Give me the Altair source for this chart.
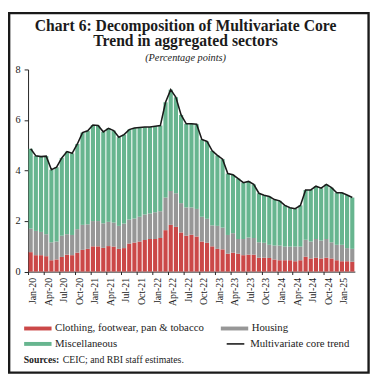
import altair as alt
import pandas as pd

mnames = ["Jan", "Feb", "Mar", "Apr", "May", "Jun", "Jul", "Aug", "Sep", "Oct", "Nov", "Dec"]
months = [f"{m}-{y}" for y in range(20, 26) for m in mnames][:63]

clothing = [0.77, 0.65, 0.65, 0.61, 0.45, 0.48, 0.58, 0.67, 0.65, 0.75, 0.86, 0.90,
            1.00, 1.00, 0.94, 1.01, 0.99, 0.90, 0.93, 1.11, 1.15, 1.19, 1.25, 1.29,
            1.29, 1.33, 1.64, 1.85, 1.77, 1.55, 1.42, 1.46, 1.39, 1.19, 1.14, 1.00,
            0.90, 0.88, 0.71, 0.75, 0.71, 0.65, 0.67, 0.67, 0.55, 0.55, 0.54, 0.48,
            0.45, 0.45, 0.45, 0.41, 0.45, 0.59, 0.52, 0.55, 0.52, 0.55, 0.52, 0.45,
            0.41, 0.41, 0.39]
housing = [0.93, 0.96, 0.92, 0.87, 0.71, 0.71, 0.84, 0.81, 0.80, 0.93, 0.99, 0.97,
           1.00, 1.00, 0.97, 0.96, 0.95, 0.91, 0.97, 0.95, 0.95, 0.98, 1.01, 1.01,
           1.06, 1.06, 1.29, 1.34, 1.33, 1.16, 1.12, 1.08, 1.09, 0.98, 0.95, 0.83,
           0.91, 0.86, 0.74, 0.77, 0.58, 0.64, 0.68, 0.66, 0.61, 0.59, 0.52, 0.55,
           0.58, 0.54, 0.54, 0.58, 0.54, 0.67, 0.67, 0.74, 0.71, 0.74, 0.64, 0.61,
           0.65, 0.52, 0.51]
misc = [3.16, 2.97, 2.98, 3.09, 2.87, 2.94, 3.08, 3.27, 3.23, 3.37, 3.65, 3.70,
        3.80, 3.78, 3.62, 3.70, 3.64, 3.51, 3.52, 3.56, 3.58, 3.53, 3.46, 3.42,
        3.40, 3.39, 3.77, 4.01, 3.80, 3.49, 3.31, 3.31, 3.35, 3.06, 3.06, 2.95,
        2.79, 2.71, 2.43, 2.31, 2.39, 2.23, 2.22, 2.12, 1.94, 1.88, 1.91, 1.82,
        1.77, 1.63, 1.54, 1.50, 1.63, 1.97, 2.04, 2.09, 2.07, 2.16, 2.16, 2.06,
        2.06, 2.10, 2.03]
core_trend = [4.86, 4.58, 4.55, 4.57, 4.03, 4.13, 4.50, 4.75, 4.68, 5.05, 5.50, 5.57,
              5.80, 5.78, 5.53, 5.67, 5.58, 5.32, 5.42, 5.62, 5.68, 5.70, 5.72, 5.72,
              5.75, 5.78, 6.70, 7.20, 6.90, 6.20, 5.85, 5.85, 5.83, 5.23, 5.15, 4.78,
              4.60, 4.45, 3.88, 3.83, 3.68, 3.52, 3.57, 3.45, 3.10, 3.02, 2.97, 2.85,
              2.80, 2.62, 2.53, 2.49, 2.62, 3.23, 3.23, 3.38, 3.30, 3.45, 3.32, 3.12,
              3.12, 3.03, 2.93]

# stacking order (bottom to top)
series_names = ["Clothing,  footwear, pan & tobacco", "Housing", "Miscellaneous"]
# legend order (column-major in a 2-column legend)
legend_order = ["Clothing,  footwear, pan & tobacco", "Miscellaneous", "Housing"]
legend_colors = ["#CB4848", "#67B58F", "#979797"]
line_name = "Multivariate core trend"

rows = []
for k, (name, vals) in enumerate(zip(series_names, [clothing, housing, misc])):
    for m, v in zip(months, vals):
        rows.append({"month": m, "series": name, "value": v, "order": k})
bars_df = pd.DataFrame(rows)
line_df = pd.DataFrame({"month": months, "value": core_trend, "s": line_name})

FONT = "Liberation Serif"
W, H = 334, 206.6

x_enc = alt.X(
    "month:N", sort=months, title=None,
    scale=alt.Scale(paddingInner=0.2, paddingOuter=0.1),
    axis=alt.Axis(values=months[::3], labelAngle=270, labelAlign="right",
                  labelBaseline="middle", labelFont=FONT, labelFontSize=10,
                  labelColor="#222", labelPadding=3, tickSize=3, tickColor="#222",
                  domainColor="#222", bandPosition=0, labelOffset=2.5),
)
y_scale = alt.Scale(domain=[0, 8], nice=False)

bars = alt.Chart(bars_df).mark_bar().encode(
    x=x_enc,
    y=alt.Y("value:Q", stack="zero", scale=y_scale, title=None,
            axis=alt.Axis(values=[0, 2, 4, 6, 8], grid=False, labelFont=FONT,
                          labelFontSize=10.5, labelColor="#222", tickSize=4,
                          tickColor="#222", domainColor="#222", labelPadding=4)),
    color=alt.Color("series:N",
                    scale=alt.Scale(domain=legend_order, range=legend_colors),
                    legend=alt.Legend(orient="none", legendX=4.5, legendY=259,
                                      columns=2, title=None,
                                      symbolType="M-2.8,-0.4H2.8V0.4H-2.8Z",
                                      symbolSize=100, symbolStrokeWidth=0,
                                      labelFont=FONT, labelFontSize=11,
                                      labelColor="#222", labelOffset=12,
                                      columnPadding=13, rowPadding=4,
                                      padding=0, labelLimit=300)),
    order=alt.Order("order:Q"),
)

line = alt.Chart(line_df).mark_line(strokeWidth=1.6).encode(
    x=alt.X("month:N", sort=months),
    y=alt.Y("value:Q", scale=y_scale),
    stroke=alt.Stroke("s:N", scale=alt.Scale(domain=[line_name], range=["#1a1a1a"]),
                      legend=alt.Legend(orient="none", legendX=202, legendY=270.5,
                                        title=None, symbolType="stroke",
                                        symbolSize=324, symbolStrokeWidth=1.6,
                                        labelFont=FONT, labelFontSize=11,
                                        labelColor="#222", labelOffset=5,
                                        padding=0)),
)

frame = alt.Chart(pd.DataFrame({"a": [1]})).mark_rect(
    fillOpacity=0, stroke="#1a1a1a", strokeWidth=2.4
).encode(
    x=alt.value(-19.3), x2=alt.value(348.0), y=alt.value(-57.5), y2=alt.value(309.8)
)

src_bold = alt.Chart(pd.DataFrame({"t": ["Sources:"]})).mark_text(
    align="left", baseline="alphabetic", font=FONT, fontSize=10, fontWeight="bold",
    color="#222"
).encode(x=alt.value(-4.5), y=alt.value(299.5), text="t:N")

src_text = alt.Chart(pd.DataFrame({"t": ["CEIC; and RBI staff estimates."]})).mark_text(
    align="left", baseline="alphabetic", font=FONT, fontSize=10, color="#222"
).encode(x=alt.value(35.5), y=alt.value(299.5), text="t:N")

chart = alt.layer(frame, bars, line, src_bold, src_text).resolve_legend(
    color="independent", stroke="independent"
).properties(
    width=W, height=H,
    title=alt.TitleParams(
        text=["Chart 6: Decomposition of Multivariate Core", "Trend in aggregated sectors"],
        subtitle=["(Percentage points)"],
        font=FONT, fontSize=16, fontWeight="bold", color="#1b1b1b", lineHeight=16,
        subtitleFont=FONT, subtitleFontSize=10.5, subtitleFontStyle="italic",
        subtitleColor="#222", subtitlePadding=4, offset=-52.6, anchor="middle",
        frame="group", dx=-6,
    ),
    autosize=alt.AutoSizeParams(type="none"),
    padding={"left": 20.5, "top": 58.7, "right": 17.5, "bottom": 107.7},
).configure_view(stroke=None)

chart.save("out.html", embed_options={"renderer": "svg", "actions": False})
